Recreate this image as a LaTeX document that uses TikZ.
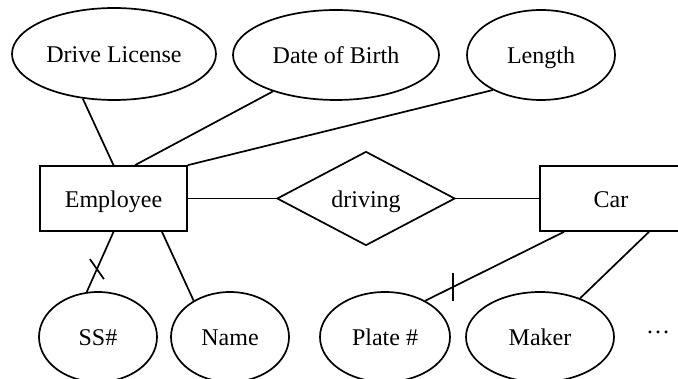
\documentclass[tikz,border=0pt]{standalone}
\usepackage{fontspec}
\setmainfont{Liberation Serif}
\usetikzlibrary{shapes.geometric,calc}
\begin{document}
\begin{tikzpicture}[x=1pt,y=-1pt,
  every node/.style={font=\fontsize{24}{28}\selectfont, text height=18pt, text depth=0pt, inner sep=0pt},
  attr/.style={draw, ellipse, line width=1.7pt},
  entity/.style={draw, rectangle, line width=1.7pt, minimum height=65pt},
  relation/.style={draw, diamond, line width=1.7pt, minimum width=178pt, minimum height=94pt},
  link/.style={line width=1.7pt},
  keymark/.style={line width=1.7pt}]
\useasboundingbox (0,0) rectangle (678,379);

% attributes of Employee
\node[attr, minimum width=204pt, minimum height=92pt] (dl)  at (114,54)  {Drive License};
\node[attr, minimum width=206pt, minimum height=90pt] (dob) at (336,55)  {Date of Birth};
\node[attr, minimum width=148pt, minimum height=90pt] (len) at (541,55)  {Length};
\node[attr, minimum width=118pt, minimum height=90pt] (ss)  at (98,337)  {SS\#};
\node[attr, minimum width=118pt, minimum height=90pt] (nm)  at (230,337) {Name};

% attributes of Car
\node[attr, minimum width=130pt, minimum height=90pt] (pl)  at (385,337) {Plate \#};
\node[attr, minimum width=148pt, minimum height=90pt] (mk)  at (540,337) {Maker};
\node[anchor=base, text height=, text depth=] (more) at (658,333.5) {…};

% entities and relationship
\node[entity, minimum width=147pt] (emp) at (113.5,198.5) {Employee};
\node[entity, minimum width=142pt] (car) at (611,198.5)   {Car};
\node[relation] (drv) at (366,198.5) {driving};

% attachment points on the boxes
\coordinate (eDob) at ([xshift=21.5pt]emp.north);
\coordinate (eNm)  at ([xshift=48.5pt]emp.south);
\coordinate (cPl)  at ([xshift=-47pt]car.south);
\coordinate (cMk)  at ([xshift=38pt]car.south);

% connectors
\draw[link] (dl.-125)  -- (emp.north);
\draw[link] (dob.-150) -- (eDob);
\draw[link] (len.-144) -- (emp.north east);
\draw[link] (emp.east) -- (drv.west);
\draw[link] (drv.east) -- (car.west);
\draw[link] (emp.south) -- (ss.104);
\draw[link] (eNm) -- (nm.135);
\draw[link] (cPl) -- (pl.42);
\draw[link] (cMk) -- (mk.44);

% key marks
\draw[keymark] ($(emp.south)!0.62!(ss.104)$) ++(-7,-10) -- ++(14,20);
\draw[keymark] ($(cPl)!0.8!(pl.42)$) ++(0,-14) -- ++(0,28);
\end{tikzpicture}
\end{document}
